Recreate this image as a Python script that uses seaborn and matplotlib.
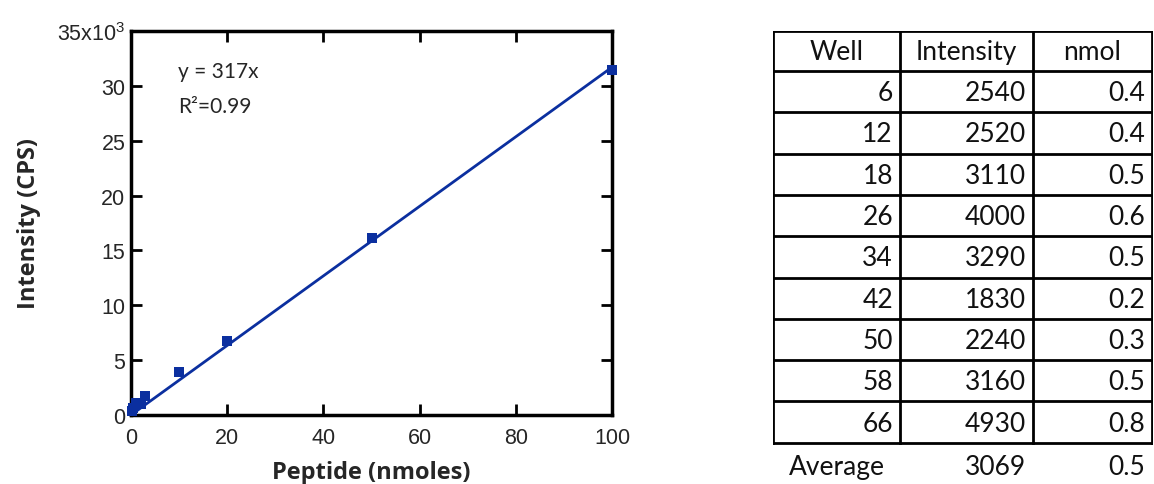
import numpy as np
import pandas as pd
import matplotlib
matplotlib.use("Agg")
import matplotlib.pyplot as plt
import seaborn as sns

# Calibration standards: peptide amount (nmoles) vs measured intensity (CPS)
peptide_nmol = [0.2, 0.5, 1, 2, 3, 10, 20, 50, 100]
intensity_cps = [400, 600, 1100, 1000, 1700, 3900, 6700, 16100, 31400]

# Linear fit through origin
slope = 317
r_squared = 0.99
fit_x = [0, 100]

# Sample wells
wells = ["6", "12", "18", "26", "34", "42", "50", "58", "66"]
well_intensity = ["2540", "2520", "3110", "4000", "3290", "1830", "2240", "3160", "4930"]
well_nmol = ["0.4", "0.4", "0.5", "0.6", "0.5", "0.2", "0.3", "0.5", "0.8"]
average_row = ["Average", "3069", "0.5"]
header = ["Well", "Intensity", "nmol"]

y_ticks = [0, 5000, 10000, 15000, 20000, 25000, 30000, 35000]
y_tick_labels = ["0", "5", "10", "15", "20", "25", "30", r"35x10$^{3}$"]
x_ticks = [0, 20, 40, 60, 80, 100]

sns.set_theme(style="white")
plt.rcParams["font.family"] = ["Liberation Sans", "DejaVu Sans"]
plt.rcParams["mathtext.fontset"] = "custom"
plt.rcParams["mathtext.rm"] = "Liberation Sans"
plt.rcParams["mathtext.it"] = "Liberation Sans"

blue = "#0b2f9f"
W, H = 1154, 485
fig = plt.figure(figsize=(W / 100, H / 100), dpi=100)

# ---- calibration plot ----
ax = fig.add_axes([131 / W, 1 - 416 / H, (612 - 131) / W, (416 - 32) / H])
fit_df = pd.DataFrame({"x": fit_x, "y": [slope * v for v in fit_x]})
sns.lineplot(data=fit_df, x="x", y="y", ax=ax, color=blue, linewidth=2)
pts = pd.DataFrame({"x": peptide_nmol, "y": intensity_cps})
sns.scatterplot(data=pts, x="x", y="y", ax=ax, marker="s", s=45, color=blue,
                edgecolor=blue, linewidth=0, zorder=5, clip_on=False)

ax.set_xlim(0, 100)
ax.set_ylim(0, 35000)
ax.set_xticks(x_ticks)
ax.set_yticks(y_ticks)
ax.set_yticklabels(y_tick_labels)
ax.tick_params(direction="in", length=8, width=2, labelsize=15.5, color="black",
               top=True, right=True, left=True, bottom=True)
ax.tick_params(axis="x", pad=9)
ax.tick_params(axis="y", pad=4)
for s in ax.spines.values():
    s.set_linewidth(2.5)
    s.set_color("black")

ax.set_xlabel("Peptide (nmoles)", fontsize=17, fontweight="bold",
              family=["Open Sans", "DejaVu Sans"], va="top")
ax.xaxis.set_label_coords(0.5, -0.118)
ax.set_ylabel("Intensity (CPS)", fontsize=17, fontweight="bold",
              family=["Open Sans", "DejaVu Sans"], va="center")
ax.yaxis.set_label_coords(-0.212, 0.5)

ax.text(0.097, 0.895, f"y = {slope}x", transform=ax.transAxes, fontsize=15,
        family=["Lato", "DejaVu Sans"], va="center", ha="left")
ax.text(0.097, 0.805, f"R\u00b2=0.99", transform=ax.transAxes, fontsize=15,
        family=["Lato", "DejaVu Sans"], va="center", ha="left")

# ---- results table ----
tx0, tx1 = 773, 1153
ty0, ty1 = 32, 500
tab = fig.add_axes([tx0 / W, 1 - ty1 / H, (tx1 - tx0) / W, (ty1 - ty0) / H])
tab.set_xlim(0, tx1 - tx0)
tab.set_ylim(ty1 - ty0, 0)
tab.axis("off")

col_edges = [0, 127, 260, 379]
row_h = 41.3
head_h = 40
row_edges = [0, head_h] + [head_h + row_h * (i + 1) for i in range(len(wells))]
lw = 2
for yy in row_edges:
    tab.plot([col_edges[0], col_edges[-1]], [yy, yy], color="black", lw=lw,
             solid_capstyle="projecting")
for xx in col_edges:
    tab.plot([xx, xx], [row_edges[0], row_edges[-1]], color="black", lw=lw,
             solid_capstyle="projecting")

tfont = dict(fontsize=19, family=["Lato", "DejaVu Sans"], va="center", color="#111111")
for c, h in enumerate(header):
    tab.text((col_edges[c] + col_edges[c + 1]) / 2, head_h / 2 + 1, h, ha="center", **tfont)

right_pad = 7
for r, vals in enumerate(zip(wells, well_intensity, well_nmol)):
    yc = head_h + row_h * (r + 0.5) + 1
    for c, v in enumerate(vals):
        tab.text(col_edges[c + 1] - right_pad, yc, v, ha="right", **tfont)

yc = row_edges[-1] + 24
tab.text((col_edges[0] + col_edges[1]) / 2, yc, average_row[0], ha="center", **tfont)
tab.text(col_edges[2] - right_pad, yc, average_row[1], ha="right", **tfont)
tab.text(col_edges[3] - right_pad, yc, average_row[2], ha="right", **tfont)

fig.savefig("out.png", dpi=100)
